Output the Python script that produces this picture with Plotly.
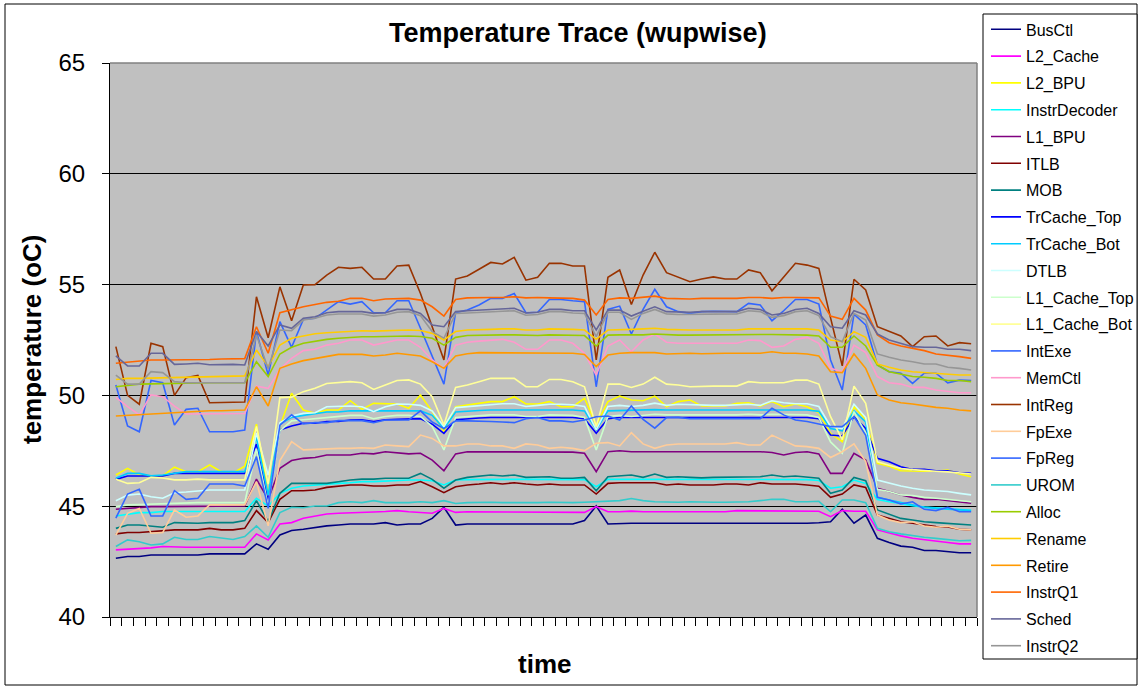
import plotly.graph_objects as go

# ---------------- data ----------------
BusCtl = [42.65, 42.73, 42.73, 42.8, 42.8, 42.8, 42.8, 42.8, 42.85, 42.85, 42.85, 42.85,
          43.3, 43.06, 43.7,
          43.9, 43.96, 44.05, 44.11, 44.15, 44.2, 44.2, 44.2, 44.26, 44.15, 44.2, 44.2, 44.45,
          44.95,
          44.15, 44.2, 44.2, 44.2, 44.2, 44.2, 44.2, 44.2, 44.2, 44.2, 44.2, 44.35,
          45.01,
          44.2, 44.23, 44.23, 44.23, 44.23, 44.23, 44.2, 44.2, 44.2, 44.2, 44.2, 44.2, 44.2, 44.2, 44.2, 44.2, 44.2, 44.23, 44.25,
          44.3, 44.86, 44.23, 44.6,
          43.55, 43.36, 43.2, 43.15, 43.0, 43.0, 42.95, 42.9, 42.9]
L2_Cache = [43.03, 43.05, 43.1, 43.12, 43.18, 43.15, 43.15, 43.15, 43.15, 43.15, 43.15, 43.15,
            43.75, 43.48, 44.2,
            44.26, 44.46, 44.56, 44.65, 44.68, 44.71, 44.71, 44.74, 44.76, 44.8, 44.75, 44.72, 44.68,
            44.9,
            44.72, 44.75, 44.75, 44.75, 44.75, 44.75, 44.75, 44.75, 44.75, 44.75, 44.75, 44.72,
            44.98,
            44.75, 44.75, 44.78, 44.75, 44.75, 44.75, 44.75, 44.75, 44.75, 44.75, 44.75, 44.8, 44.8, 44.77, 44.77, 44.8, 44.8, 44.77, 44.77,
            44.53, 44.8, 44.77, 44.77,
            43.93, 43.78, 43.66, 43.55, 43.48, 43.4, 43.36, 43.3, 43.3]
L2_BPU = [46.41, 46.71, 46.41, 46.37, 46.37, 46.76, 46.56, 46.56, 46.86, 46.56, 46.5, 46.8,
          48.7, 45.5, 48.6,
          50.1, 49.34, 49.19, 49.34, 49.34, 49.76, 49.37, 49.64, 49.61, 49.61, 49.42, 50.02, 49.27,
          48.36,
          49.49, 49.56, 49.64, 49.72, 49.72, 49.94, 49.61, 49.61, 49.72, 49.49, 49.49, 49.87,
          48.66,
          49.72, 49.97, 49.79, 49.76, 49.97, 49.49, 49.72, 49.79, 49.52, 49.52, 49.52, 49.64, 49.67, 49.52, 49.72, 49.49, 49.61, 49.49, 49.22,
          48.29, 47.91, 49.49, 48.9,
          46.93, 46.8, 46.6, 46.58, 46.58, 46.58, 46.63, 46.45, 46.33]
InstrDecoder = [44.56, 44.65, 44.71, 44.71, 44.76, 44.76, 44.76, 44.76, 44.76, 44.76, 44.76, 44.76,
                45.36, 45.0, 45.58,
                45.81, 45.91, 45.96, 46.0, 46.03, 46.06, 46.11, 46.11, 46.14, 46.16, 46.18, 46.18, 46.15,
                45.96,
                46.18, 46.2, 46.21, 46.21, 46.21, 46.21, 46.21, 46.21, 46.21, 46.21, 46.21, 46.2,
                45.88,
                46.21, 46.21, 46.21, 46.21, 46.21, 46.21, 46.21, 46.22, 46.22, 46.22, 46.22, 46.22, 46.22, 46.22, 46.22, 46.22, 46.22, 46.2, 46.16,
                45.81, 45.88, 46.18, 46.03,
                45.3, 45.2, 45.1, 45.02, 44.96, 44.92, 44.88, 44.85, 44.82]
L1_BPU = [44.86, 44.9, 44.95, 44.98, 44.98, 44.98, 44.98, 45.0, 45.0, 45.01, 45.01, 45.01,
          46.22, 45.31, 46.71,
          47.06, 47.16, 47.2, 47.31, 47.31, 47.31, 47.39, 47.36, 47.46, 47.4, 47.36, 47.39, 47.08,
          46.6,
          47.36, 47.46, 47.46, 47.46, 47.46, 47.46, 47.46, 47.46, 47.46, 47.46, 47.44, 47.39,
          46.56,
          47.46, 47.5, 47.46, 47.46, 47.46, 47.46, 47.46, 47.46, 47.46, 47.46, 47.46, 47.46, 47.46, 47.46, 47.42, 47.31, 47.42, 47.46, 47.36,
          46.48, 46.48, 47.39, 47.08,
          45.81, 45.66, 45.51, 45.4, 45.31, 45.31, 45.25, 45.16, 45.13]
ITLB = [43.75, 43.81, 43.81, 43.85, 43.9, 43.93, 43.93, 43.93, 44.0, 43.93, 43.93, 44.0,
        44.8, 44.26, 45.31,
        45.7, 45.7, 45.73, 45.85, 45.9, 45.96, 45.96, 45.91, 45.91, 45.96, 45.96, 46.11, 45.88,
        45.61,
        45.88, 45.96, 46.0, 46.06, 46.0, 46.06, 46.0, 45.96, 46.0, 45.96, 45.96, 45.96,
        45.55,
        46.03, 46.06, 46.06, 46.03, 46.06, 45.96, 46.0, 45.96, 45.96, 45.96, 46.0, 46.0, 45.96, 46.06, 46.0, 46.0, 46.0, 45.96, 45.9,
        45.4, 45.55, 45.96, 45.85,
        44.6, 44.45, 44.3, 44.23, 44.15, 44.08, 44.06, 43.96, 43.93]
MOB = [44.0, 44.15, 44.15, 44.1, 44.05, 44.26, 44.23, 44.23, 44.26, 44.26, 44.26, 44.35,
       45.25, 44.3, 45.58,
       46.03, 46.03, 46.0, 46.03, 46.1, 46.18, 46.22, 46.22, 46.26, 46.26, 46.26, 46.48, 46.21,
       45.81,
       46.18, 46.3, 46.36, 46.41, 46.36, 46.41, 46.3, 46.3, 46.33, 46.26, 46.26, 46.3,
       45.7,
       46.33, 46.36, 46.41, 46.3, 46.45, 46.3, 46.33, 46.3, 46.28, 46.3, 46.3, 46.33, 46.3, 46.33, 46.41, 46.33, 46.36, 46.3, 46.26,
       45.58, 45.73, 46.3, 46.15,
       44.83, 44.65, 44.45, 44.38, 44.3, 44.26, 44.23, 44.2, 44.15]
TrCache_Top = [46.21, 46.36, 46.36, 46.36, 46.36, 46.48, 46.48, 46.48, 46.48, 46.48, 46.48, 46.48,
               47.8, 45.2, 48.44,
               48.62, 48.74, 48.74, 48.82, 48.82, 48.89, 48.9, 48.82, 48.9, 48.92, 48.95, 48.95, 48.7,
               48.29,
               48.9, 48.95, 48.98, 49.0, 49.0, 49.0, 48.98, 48.98, 49.0, 49.0, 49.0, 48.95,
               48.29,
               48.95, 49.0, 49.0, 49.0, 49.01, 49.0, 49.0, 49.0, 49.0, 49.0, 49.0, 49.0, 49.01, 49.01, 49.01, 49.01, 49.0, 49.0, 48.95,
               48.21, 48.17, 49.04, 48.51,
               47.16, 47.01, 46.78, 46.66, 46.66, 46.6, 46.6, 46.51, 46.48]
TrCache_Bot = [46.26, 46.48, 46.48, 46.37, 46.41, 46.5, 46.56, 46.56, 46.56, 46.56, 46.56, 46.56,
               48.1, 45.5, 48.7,
               49.01, 49.1, 49.19, 49.25, 49.25, 49.31, 49.3, 49.3, 49.3, 49.32, 49.32, 49.3, 49.1,
               48.5,
               49.25, 49.3, 49.32, 49.34, 49.34, 49.34, 49.32, 49.32, 49.34, 49.34, 49.34, 49.3,
               48.45,
               49.3, 49.32, 49.32, 49.34, 49.36, 49.34, 49.34, 49.34, 49.34, 49.34, 49.34, 49.34, 49.36, 49.36, 49.36, 49.36, 49.36, 49.34, 49.28,
               48.5, 48.4, 49.3, 48.8,
               45.4, 45.28, 45.16, 45.05, 44.95, 44.9, 44.86, 44.83, 44.8]
DTLB = [45.25, 45.5, 45.55, 45.43, 45.36, 45.61, 45.64, 45.7, 45.73, 45.73, 45.73, 45.73,
        48.3, 46.4, 48.77,
        49.07, 49.19, 49.22, 49.49, 49.52, 49.52, 49.49, 49.27, 49.49, 49.61, 49.6, 49.55, 49.3,
        48.59,
        49.45, 49.5, 49.55, 49.6, 49.62, 49.62, 49.5, 49.55, 49.6, 49.6, 49.58, 49.5,
        48.45,
        49.5, 49.55, 49.5, 49.55, 49.65, 49.55, 49.6, 49.58, 49.55, 49.55, 49.55, 49.58, 49.6, 49.55, 49.76, 49.67, 49.62, 49.62, 49.5,
        48.6, 48.5, 49.6, 49.0,
        46.18, 46.03, 45.91, 45.81, 45.73, 45.7, 45.66, 45.58, 45.51]
L1_Cache_Top = [44.98, 45.06, 45.08, 45.1, 45.12, 45.14, 45.15, 45.16, 45.16, 45.16, 45.16, 45.16,
                47.6, 45.0, 48.4,
                48.85, 48.9, 48.95, 49.0, 49.05, 49.1, 49.1, 48.95, 49.05, 49.1, 49.1, 49.05, 48.6,
                47.54,
                49.0, 49.05, 49.1, 49.12, 49.12, 49.12, 49.05, 49.05, 49.12, 49.12, 49.1, 49.0,
                47.54,
                49.05, 49.1, 49.05, 49.1, 49.15, 49.12, 49.12, 49.12, 49.1, 49.1, 49.1, 49.12, 49.15, 49.12, 49.15, 49.15, 49.15, 49.12, 49.0,
                47.9, 47.39, 49.27, 48.3,
                45.76, 45.66, 45.51, 45.48, 45.4, 45.36, 45.31, 45.25, 45.2]
L1_Cache_Bot = [46.22, 46.03, 46.06, 46.3, 46.27, 46.19, 46.19, 46.22, 46.19, 46.19, 46.19, 46.19,
                48.6, 46.0, 49.9,
                49.92, 50.17, 50.32, 50.54, 50.57, 50.62, 50.57, 50.27, 50.47, 50.67, 50.7, 50.51, 49.94,
                48.66,
                50.36, 50.47, 50.62, 50.77, 50.77, 50.77, 50.39, 50.39, 50.72, 50.72, 50.62, 50.39,
                48.59,
                50.51, 50.51, 50.36, 50.51, 50.82, 50.51, 50.47, 50.39, 50.42, 50.42, 50.42, 50.42, 50.62, 50.57, 50.57, 50.57, 50.69, 50.69, 50.51,
                49.04, 48.0, 50.42, 49.64,
                47.0, 46.85, 46.7, 46.65, 46.6, 46.58, 46.55, 46.5, 46.45]
IntExe = [50.47, 48.62, 48.36, 50.67, 50.57, 48.66, 49.37, 49.42, 48.36, 48.36, 48.36, 48.44,
          52.88, 50.92, 53.33,
          52.17, 53.43, 53.48, 53.85, 54.23, 54.12, 54.23, 53.73, 53.73, 54.27, 54.27, 53.03, 51.75,
          50.51,
          53.73, 53.85, 54.08, 54.38, 54.38, 54.6, 53.73, 53.75, 54.33, 54.33, 54.27, 54.23,
          50.39,
          53.88, 54.03, 52.77, 53.88, 54.79, 54.0, 53.78, 53.7, 53.78, 53.8, 53.78, 53.78, 54.15, 54.08, 53.37, 53.82, 54.33, 54.33, 54.12,
          51.6, 50.24, 53.67, 53.18,
          51.37, 51.07, 51.0, 50.54, 51.0, 51.0, 50.57, 50.69, 50.67]
MemCtl = [49.91, 49.49, 49.12, 50.02, 49.94, 49.52, 49.16, 49.16, 49.16, 49.16, 49.16, 49.18,
          50.42, 50.32, 51.18,
          51.67, 52.02, 52.08, 52.27, 52.35, 52.5, 52.5, 52.27, 52.38, 52.5, 52.5, 52.17, 51.6,
          51.22,
          52.27, 52.4, 52.45, 52.5, 52.53, 52.4, 52.08, 52.08, 52.5, 52.5, 52.35, 51.9,
          50.92,
          52.23, 52.5, 51.97, 52.5, 52.77, 52.4, 52.35, 52.35, 52.35, 52.35, 52.35, 52.35, 52.5, 52.47, 52.17, 52.23, 52.53, 52.62, 52.35,
          51.22, 51.07, 52.27, 51.93,
          50.85, 50.57, 50.51, 50.36, 50.36, 50.24, 50.17, 50.12, 50.12]
IntReg = [52.2, 50.0, 49.6, 52.35, 52.2, 50.0, 50.8, 50.9, 49.67, 49.67, 49.67, 49.7,
          54.45, 52.6, 54.9,
          53.37, 54.98, 55.0, 55.43, 55.78, 55.73, 55.78, 55.25, 55.25, 55.84, 55.88, 54.6, 53.1,
          51.6,
          55.25, 55.39, 55.69, 56.0, 55.93, 56.23, 55.2, 55.33, 55.96, 55.96, 55.84, 55.84,
          51.6,
          55.33, 55.66, 54.1, 55.43, 56.46, 55.54, 55.35, 55.13, 55.25, 55.35, 55.25, 55.25, 55.66, 55.54, 54.72, 55.33, 55.96, 55.88, 55.73,
          53.5, 51.33, 55.24, 54.76,
          53.1, 52.88, 52.68, 52.2, 52.65, 52.68, 52.23, 52.38, 52.33]
FpExe = [43.7, 44.68, 44.9, 43.78, 43.81, 44.83, 44.5, 44.56, 45.06, 45.06, 45.06, 45.06,
         46.11, 44.11, 47.06,
         47.91, 47.54, 47.57, 47.61, 47.61, 47.61, 47.64, 47.61, 47.76, 47.72, 47.69, 48.21, 48.06,
         47.72,
         47.72, 47.81, 47.81, 47.72, 47.72, 47.61, 47.81, 47.76, 47.61, 47.66, 47.61, 47.51,
         47.84,
         47.87, 47.72, 48.32, 47.81, 47.61, 47.76, 47.81, 47.81, 47.81, 47.81, 47.81, 47.87, 47.76, 47.76, 48.21, 47.96, 47.72, 47.69, 47.61,
         47.2, 47.46, 47.81, 47.01,
         44.6, 44.38, 44.26, 44.3, 44.11, 44.05, 44.1, 43.96, 43.93]
FpReg = [44.46, 45.55, 45.76, 44.56, 44.56, 45.7, 45.31, 45.36, 46.0, 46.0, 46.0, 45.91,
         47.24, 44.9, 48.66,
         49.12, 48.71, 48.77, 48.77, 48.86, 48.86, 48.86, 48.77, 48.89, 48.89, 48.89, 49.3, 48.8,
         48.5,
         48.85, 48.85, 48.82, 48.82, 48.8, 48.77, 48.95, 49.0, 48.85, 48.85, 48.8, 48.89,
         49.04,
         49.07, 48.89, 49.52, 48.92, 48.52, 49.0, 49.01, 48.95, 48.95, 48.95, 48.95, 48.95, 48.95, 48.95, 49.42, 49.12, 48.89, 48.82, 48.71,
         48.59, 48.59, 49.04, 48.2,
         45.4, 45.28, 45.1, 45.2, 44.86, 44.8, 44.95, 44.75, 44.75]
UROM = [43.18, 43.48, 43.4, 43.25, 43.3, 43.6, 43.5, 43.5, 43.63, 43.55, 43.5, 43.63,
        44.11, 43.6, 44.71,
        44.95, 44.93, 45.01, 45.01, 45.16, 45.2, 45.16, 45.25, 45.16, 45.16, 45.16, 45.2, 45.16,
        45.25,
        45.12, 45.16, 45.18, 45.18, 45.16, 45.16, 45.14, 45.16, 45.18, 45.16, 45.16, 45.18,
        45.2,
        45.2, 45.25, 45.35, 45.25, 45.2, 45.18, 45.18, 45.2, 45.18, 45.18, 45.18, 45.18, 45.2, 45.25, 45.31, 45.31, 45.2, 45.2, 45.22,
        44.75, 45.28, 45.28, 45.16,
        44.0, 43.85, 43.75, 43.66, 43.6, 43.55, 43.5, 43.44, 43.46]
Alloc = [50.39, 50.45, 50.51, 50.52, 50.53, 50.57, 50.57, 50.57, 50.57, 50.57, 50.57, 50.57,
         51.52, 50.85, 51.87,
         52.17, 52.35, 52.45, 52.53, 52.58, 52.62, 52.65, 52.65, 52.66, 52.68, 52.68, 52.66, 52.58,
         52.27,
         52.62, 52.7, 52.72, 52.73, 52.73, 52.73, 52.7, 52.7, 52.73, 52.73, 52.73, 52.7,
         52.23,
         52.72, 52.73, 52.73, 52.73, 52.77, 52.73, 52.72, 52.72, 52.73, 52.73, 52.73, 52.73, 52.75, 52.75, 52.75, 52.75, 52.75, 52.72, 52.68,
         52.17, 52.17, 52.68, 52.23,
         51.37, 51.07, 50.97, 50.85, 50.82, 50.77, 50.67, 50.67, 50.62]
Rename = [50.72, 50.77, 50.77, 50.78, 50.8, 50.8, 50.82, 50.83, 50.84, 50.85, 50.86, 50.88,
          52.05, 51.3, 52.27,
          52.58, 52.68, 52.78, 52.83, 52.85, 52.9, 52.92, 52.9, 52.92, 52.95, 52.95, 52.93, 52.8,
          52.5,
          52.88, 52.95, 52.98, 52.98, 53.0, 53.0, 52.95, 52.95, 53.0, 53.0, 52.98, 52.95,
          52.53,
          52.95, 52.98, 52.98, 53.0, 53.03, 52.98, 52.95, 52.95, 52.95, 52.95, 52.95, 52.95, 53.0, 53.0, 53.0, 53.0, 53.0, 53.0, 52.95,
          52.5, 52.42, 52.88, 52.62,
          51.42, 51.27, 51.15, 51.07, 51.03, 51.0, 50.97, 50.92, 50.92]
Retire = [49.07, 49.1, 49.16, 49.16, 49.22, 49.25, 49.28, 49.3, 49.31, 49.31, 49.31, 49.34,
          50.39, 49.52, 51.22,
          51.42, 51.57, 51.67, 51.78, 51.85, 51.85, 51.85, 51.78, 51.82, 51.9, 51.85, 51.78, 51.52,
          51.22,
          51.78, 51.88, 51.93, 51.93, 51.93, 51.93, 51.9, 51.9, 51.93, 51.93, 51.9, 51.85,
          51.3,
          51.82, 51.9, 51.93, 51.93, 51.93, 51.87, 51.9, 51.9, 51.88, 51.9, 51.9, 51.9, 51.9, 51.9, 51.97, 51.9, 51.9, 51.87, 51.78,
          51.07, 51.03, 51.87, 51.22,
          50.02, 49.79, 49.67, 49.61, 49.52, 49.46, 49.42, 49.34, 49.3]
InstrQ1 = [51.45, 51.5, 51.55, 51.6, 51.6, 51.6, 51.6, 51.62, 51.62, 51.64, 51.66, 51.66,
           53.1, 51.9, 53.73,
           53.88, 54.0, 54.1, 54.2, 54.25, 54.38, 54.38, 54.27, 54.35, 54.38, 54.38, 54.3, 54.0,
           53.58,
           54.33, 54.4, 54.42, 54.42, 54.42, 54.45, 54.4, 54.42, 54.4, 54.4, 54.38, 54.3,
           53.63,
           54.33, 54.4, 54.38, 54.42, 54.48, 54.38, 54.35, 54.35, 54.38, 54.38, 54.38, 54.38, 54.42, 54.42, 54.38, 54.42, 54.42, 54.42, 54.4,
           53.58, 53.43, 54.38, 53.85,
           52.73, 52.38, 52.23, 52.12, 52.02, 51.87, 51.82, 51.75, 51.67]
Sched = [51.78, 51.33, 51.33, 51.9, 51.9, 51.4, 51.42, 51.45, 51.38, 51.4, 51.4, 51.37,
         52.88, 52.23, 53.18,
         53.03, 53.48, 53.55, 53.73, 53.78, 53.78, 53.78, 53.7, 53.73, 53.88, 53.88, 53.7, 53.18,
         53.1,
         53.78, 53.82, 53.85, 53.9, 53.9, 53.93, 53.72, 53.75, 53.88, 53.88, 53.82, 53.82,
         52.95,
         53.85, 53.85, 53.58, 53.8, 54.0, 53.78, 53.75, 53.75, 53.78, 53.78, 53.78, 53.78, 53.93, 53.88, 53.63, 53.7, 53.88, 53.93, 53.7,
         53.1, 53.03, 53.82, 53.63,
         52.77, 52.5, 52.35, 52.2, 52.17, 52.17, 52.08, 52.08, 52.02]
InstrQ2 = [50.92, 50.51, 50.51, 51.07, 51.03, 50.62, 50.57, 50.57, 50.55, 50.57, 50.57, 50.57,
           52.73, 51.2, 52.95,
           52.92, 53.4, 53.48, 53.63, 53.67, 53.67, 53.67, 53.58, 53.63, 53.75, 53.78, 53.6, 52.88,
           52.58,
           53.7, 53.72, 53.75, 53.8, 53.8, 53.82, 53.62, 53.65, 53.78, 53.78, 53.72, 53.7,
           52.65,
           53.75, 53.75, 53.43, 53.7, 53.88, 53.68, 53.65, 53.65, 53.68, 53.68, 53.68, 53.68, 53.82, 53.78, 53.52, 53.6, 53.78, 53.82, 53.6,
           52.65, 52.42, 53.7, 53.4,
           51.87, 51.72, 51.6, 51.52, 51.42, 51.42, 51.27, 51.22, 51.15]

series_names = ["BusCtl", "L2_Cache", "L2_BPU", "InstrDecoder", "L1_BPU", "ITLB", "MOB",
                "TrCache_Top", "TrCache_Bot", "DTLB", "L1_Cache_Top", "L1_Cache_Bot", "IntExe",
                "MemCtl", "IntReg", "FpExe", "FpReg", "UROM", "Alloc", "Rename", "Retire",
                "InstrQ1", "Sched", "InstrQ2"]
series_values = [BusCtl, L2_Cache, L2_BPU, InstrDecoder, L1_BPU, ITLB, MOB, TrCache_Top,
                 TrCache_Bot, DTLB, L1_Cache_Top, L1_Cache_Bot, IntExe, MemCtl, IntReg, FpExe,
                 FpReg, UROM, Alloc, Rename, Retire, InstrQ1, Sched, InstrQ2]
series_colors = ["#000080", "#FF00FF", "#FFFF00", "#00FFFF", "#800080", "#800000", "#008080",
                 "#0000FF", "#00CCFF", "#CCFFFF", "#CCFFCC", "#FFFF99", "#3366FF", "#FF99CC",
                 "#993300", "#FFCC99", "#3366FF", "#33CCCC", "#99CC00", "#FFCC00", "#FF9900",
                 "#FF6600", "#666699", "#969696"]
y_ticks = [40, 45, 50, 55, 60, 65]

n_points = len(BusCtl)
for nm, v in zip(series_names, series_values):
    assert len(v) == n_points, (nm, len(v))
time_index = list(range(n_points))

# ---------------- layout helpers ----------------
W, H = 1141, 687
PL, PR, PT, PB = 110, 977, 63, 617   # plot area in pixels


def px_x(x):
    return (x - PL) / (PR - PL)


def px_y(y):
    return (PB - y) / (PB - PT)


FONT = "Liberation Sans, Arial, Helvetica, sans-serif"
LEG_FONT = 16
LEG_ITEM = LEG_FONT * 1.3 + 3          # plotly legend row height
LEG_STEP = 26.8                        # row pitch in the reference
LEG_GAP = LEG_STEP - LEG_ITEM
LEG_OFF = 5 + LEG_ITEM / 2             # top pad + half a row
FIRST_ROW_Y = 29.3
HALF = 12

fig = go.Figure()
for k, (nm, v, c) in enumerate(zip(series_names, series_values, series_colors)):
    fig.add_trace(go.Scatter(x=time_index, y=v, mode="lines", name=nm, legendgroup=nm,
                             legend="legend" if k < HALF else "legend2",
                             line=dict(color=c, width=1.6)))

leg_common = dict(xanchor="left", yanchor="top", bgcolor="rgba(0,0,0,0)", borderwidth=0,
                  font=dict(size=LEG_FONT, family=FONT, color="black"),
                  traceorder="grouped", tracegroupgap=LEG_GAP, x=px_x(986))

fig.update_layout(
    width=W, height=H,
    margin=dict(l=PL, r=W - PR, t=PT, b=H - PB, autoexpand=False),
    paper_bgcolor="white",
    plot_bgcolor="#C0C0C0",
    font=dict(family=FONT, color="black"),
    showlegend=True,
    legend=dict(y=px_y(FIRST_ROW_Y - LEG_OFF), **leg_common),
    legend2=dict(y=px_y(FIRST_ROW_Y + HALF * LEG_STEP - LEG_OFF), **leg_common),
    xaxis=dict(range=[-0.5, n_points - 0.5], tick0=-0.5, dtick=1, ticks="outside",
               ticklen=8, tickcolor="black", showticklabels=False, showgrid=False,
               zeroline=False, showline=True, linecolor="black", linewidth=1),
    yaxis=dict(range=[40, 65], tickvals=y_ticks, ticks="outside", ticklen=7,
               tickcolor="black", tickfont=dict(size=24, family=FONT, color="black"),
               ticklabelstandoff=12,
               showgrid=True, gridcolor="black", gridwidth=1, zeroline=False,
               showline=True, linecolor="black", linewidth=1),
    annotations=[
        dict(text="<b>Temperature Trace (wupwise)</b>", xref="paper", yref="paper",
             x=px_x(578), y=px_y(33), xanchor="center", yanchor="middle", showarrow=False,
             font=dict(size=27, family=FONT, color="black")),
        dict(text="<b>temperature (oC)</b>", xref="paper", yref="paper",
             x=px_x(32), y=px_y(340), xanchor="center", yanchor="middle", showarrow=False,
             textangle=-90, font=dict(size=26, family=FONT, color="black")),
        dict(text="<b>time</b>", xref="paper", yref="paper",
             x=px_x(544), y=px_y(664), xanchor="center", yanchor="middle", showarrow=False,
             font=dict(size=26, family=FONT, color="black")),
    ],
    shapes=[
        dict(type="rect", xref="paper", yref="paper", x0=px_x(5), x1=px_x(1137),
             y0=px_y(685), y1=px_y(4), line=dict(color="black", width=1), layer="below"),
        dict(type="rect", xref="paper", yref="paper", x0=px_x(983), x1=px_x(1137),
             y0=px_y(659), y1=px_y(14), fillcolor="white",
             line=dict(color="black", width=1), layer="below"),
        dict(type="line", xref="paper", yref="paper", x0=0, x1=1, y0=1, y1=1,
             line=dict(color="#808080", width=1.5), layer="above"),
        dict(type="line", xref="paper", yref="paper", x0=1, x1=1, y0=0, y1=1,
             line=dict(color="#808080", width=1.5), layer="above"),
    ],
)

fig.write_html("out.html")
